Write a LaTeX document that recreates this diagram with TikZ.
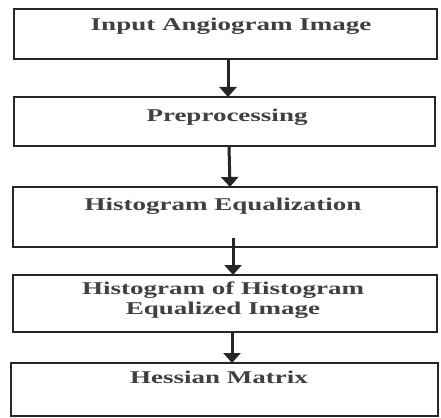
\documentclass[tikz,border=0pt]{standalone}
\usepackage{fontspec}
\setmainfont{Liberation Serif}
\usetikzlibrary{arrows.meta}
\begin{document}
\begin{tikzpicture}[x=1pt,y=-1pt,
  box/.style={draw=black!85,line width=2.8pt},
  lbl/.style={font=\fontsize{18}{20}\selectfont\bfseries,text=black!75,inner sep=0pt},
  flow/.style={draw=black!85,line width=3pt,-{Triangle[length=10pt,width=17pt]}}]
\useasboundingbox (0,0) rectangle (441,417);
\draw[box] (14,9) rectangle (437,59);
\node[lbl] (t1) at (231,26) {\scalebox{1.5}[1]{Input Angiogram Image}};
\draw[box] (14,97) rectangle (435,146);
\node[lbl] (t2) at (227,117) {\scalebox{1.5}[1]{Preprocessing}};
\draw[box] (13,187) rectangle (437,247);
\node[lbl] (t3) at (223,206) {\scalebox{1.5}[1]{Histogram Equalization}};
\draw[box] (13,275) rectangle (437,332);
\node[lbl,align=center] (t4) at (223,300) {\scalebox{1.5}[1]{Histogram of Histogram}\\[0pt]\scalebox{1.5}[1]{Equalized Image}};
\draw[box] (11,363) rectangle (438,416);
\node[lbl] (t5) at (219,377) {\scalebox{1.5}[1]{Hessian Matrix}};
\coordinate (a1s) at (228,60); \coordinate (a1e) at (228,97);
\coordinate (a2s) at (229,146); \coordinate (a2e) at (230,187);
\coordinate (a3s) at (233,238); \coordinate (a3e) at (233,275);
\coordinate (a4s) at (232,332); \coordinate (a4e) at (232,363);
\draw[flow] (a1s) -- (a1e);
\draw[flow] (a2s) -- (a2e);
\draw[flow] (a3s) -- (a3e);
\draw[flow] (a4s) -- (a4e);
\end{tikzpicture}
\end{document}
